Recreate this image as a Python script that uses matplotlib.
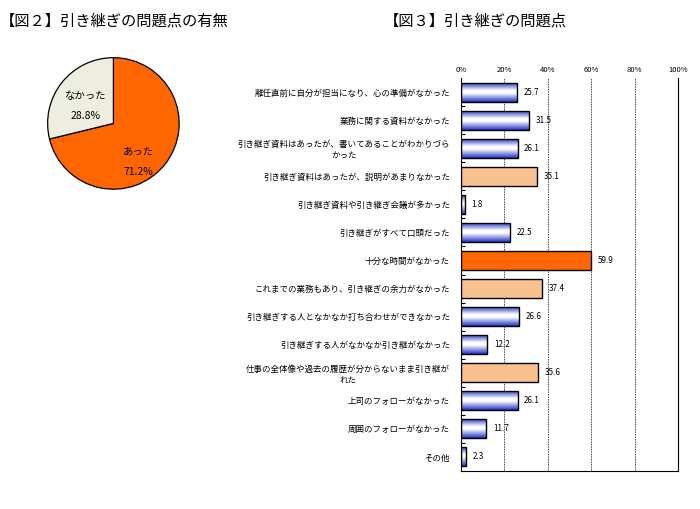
import matplotlib
matplotlib.use("Agg")
import matplotlib.pyplot as plt
import numpy as np
from matplotlib.colors import LinearSegmentedColormap

plt.rcParams['font.family'] = ['Noto Sans CJK JP', 'DejaVu Sans']

# pie data
pie_labels = ["あった", "なかった"]
pie_values = [71.2, 28.8]
pie_colors = ["#FF6600", "#EEEEE0"]

# bar data
categories = [
    "離任直前に自分が担当になり、心の準備がなかった",
    "業務に関する資料がなかった",
    "引き継ぎ資料はあったが、書いてあることがわかりづら\nかった",
    "引き継ぎ資料はあったが、説明があまりなかった",
    "引き継ぎ資料や引き継ぎ会議が多かった",
    "引き継ぎがすべて口頭だった",
    "十分な時間がなかった",
    "これまでの業務もあり、引き継ぎの余力がなかった",
    "引き継ぎする人となかなか打ち合わせができなかった",
    "引き継ぎする人がなかなか引き継がなかった",
    "仕事の全体像や過去の履歴が分からないまま引き継が\nれた",
    "上司のフォローがなかった",
    "周囲のフォローがなかった",
    "その他",
]
values = [25.7, 31.5, 26.1, 35.1, 1.8, 22.5, 59.9, 37.4, 26.6, 12.2, 35.6, 26.1, 11.7, 2.3]
# bar style: 0 = blue gradient, 1 = peach, 2 = orange
styles = [0, 0, 0, 1, 0, 0, 2, 1, 0, 0, 1, 0, 0, 0]
xticks = [0, 20, 40, 60, 80, 100]

fig = plt.figure(figsize=(7, 5.09), dpi=100)

fig.text(0.0, 0.958, "【図２】引き継ぎの問題点の有無", fontsize=11, va="center", ha="left")
fig.text(0.548, 0.958, "【図３】引き継ぎの問題点", fontsize=11, va="center", ha="left")

# pie
pax = fig.add_axes([0.067, 0.627, 0.19, 0.261])
wedges, _ = pax.pie(pie_values, colors=pie_colors, startangle=90, counterclock=False,
                    wedgeprops=dict(edgecolor="black", linewidth=0.9))
pax.set_aspect("equal")
pax.set_xlim(-1.01, 1.01)
pax.set_ylim(-1.01, 1.01)
pax.text(0.38, -0.58, f"{pie_labels[0]}\n\n{pie_values[0]}%", ha="center", va="center", fontsize=7.5, linespacing=1.0)
pax.text(-0.43, 0.27, f"{pie_labels[1]}\n\n{pie_values[1]}%", ha="center", va="center", fontsize=7.5, linespacing=1.0)

# bars
ax = fig.add_axes([0.6586, 0.0747, 0.31, 0.772])
n = len(categories)
y = np.arange(n)

blue_cmap = LinearSegmentedColormap.from_list(
    "bg", [(0, "#1A2AB8"), (0.42, "#FFFFFF"), (0.55, "#FFFFFF"), (1, "#2233C0")])
grad = np.linspace(0, 1, 64).reshape(-1, 1)

h = 0.68
for i, (v, s) in enumerate(zip(values, styles)):
    if s == 0:
        bar = ax.barh(i, v, height=h, facecolor="none", edgecolor="black", linewidth=1.0, zorder=3)[0]
        im = ax.imshow(grad, cmap=blue_cmap, aspect="auto", zorder=2,
                       extent=[0, v, i + h / 2, i - h / 2], origin="upper")
        im.set_clip_path(bar)
    elif s == 1:
        ax.barh(i, v, height=h, color="#F9C090", edgecolor="black", linewidth=1.0, zorder=3)
    else:
        ax.barh(i, v, height=h, color="#FF6600", edgecolor="black", linewidth=1.0, zorder=3)
    ax.text(v + 3, i, f"{v}", va="center", ha="left", fontsize=5.8, zorder=4)

ax.set_xlim(0, 100)
ax.set_ylim(n - 0.5, -0.5)
ax.xaxis.tick_top()
ax.set_xticks(xticks)
ax.set_xticklabels([f"{t}%" for t in xticks], fontsize=5.5)
ax.tick_params(axis="x", length=0, pad=3)
for t in xticks[1:-1]:
    ax.axvline(t, color="black", linestyle=(0, (1, 1)), linewidth=0.6, zorder=1)

ax.set_yticks(y)
ax.set_yticklabels(categories, fontsize=6.1, linespacing=1.3, multialignment="center")
ax.set_yticks(np.arange(n - 1) + 0.5, minor=True)
ax.tick_params(axis="y", which="major", length=0, pad=8)
ax.tick_params(axis="y", which="minor", length=3, direction="in", width=0.8)
ax.spines["top"].set_visible(False)
for sp in ["left", "right", "bottom"]:
    ax.spines[sp].set_linewidth(0.8)

fig.savefig("out.png", dpi=100)
